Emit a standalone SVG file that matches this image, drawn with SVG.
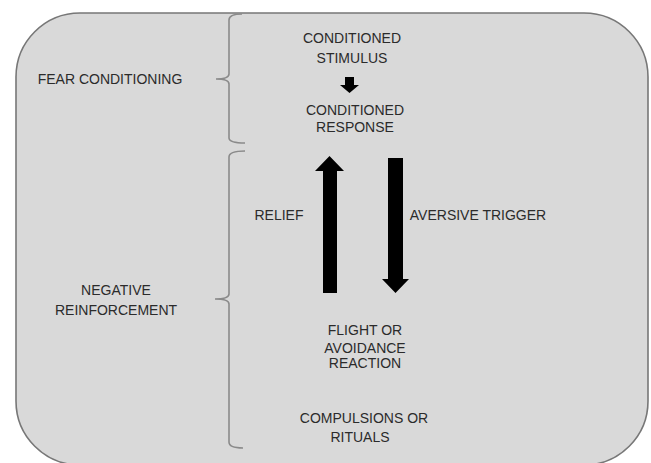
<svg xmlns="http://www.w3.org/2000/svg" width="651" height="463" viewBox="0 0 651 463">
<style>
text{font-family:"Liberation Sans",Arial,sans-serif;font-size:14px;fill:#2b2b2b;text-anchor:middle}
.brace{fill:none;stroke:#8a8a8a;stroke-width:1.6}
.arrow{fill:#000}
</style>
<rect width="651" height="463" fill="#fff"/>
<g id="frame">
<rect x="16" y="13" width="632" height="452" rx="64" ry="64" fill="#d9d9d9" stroke="#777" stroke-width="1.6"/>
</g>
<g id="braces">
<path class="brace" d="M242,14 Q229,14 229,20 L229,74 Q229,79 216,79 Q229,79 229,84 L229,138 Q229,143 245,143"/>
<path class="brace" d="M245,151 Q229,151 229,157 L229,294 Q229,299 215,299 Q229,299 229,304 L229,442 Q229,448 243,448"/>
</g>
<g id="fear-conditioning"><text x="110" y="84">FEAR CONDITIONING</text></g>
<g id="negative-reinforcement"><text x="116" y="295">NEGATIVE</text><text x="116" y="315">REINFORCEMENT</text></g>
<g id="conditioned-stimulus"><text x="352" y="43">CONDITIONED</text><text x="352" y="63">STIMULUS</text></g>
<g id="conditioned-response"><text x="355" y="115">CONDITIONED</text><text x="355" y="132">RESPONSE</text></g>
<g id="flight"><text x="365" y="335">FLIGHT OR</text><text x="365" y="353">AVOIDANCE</text><text x="365" y="368">REACTION</text></g>
<g id="compulsions"><text x="364" y="423">COMPULSIONS OR</text><text x="360" y="442">RITUALS</text></g>
<g id="connectors">
<polygon class="arrow" points="345,77 354,77 354,85 359,85 349.5,93 340,85 345,85"/>
<polygon class="arrow" points="323,293 337,293 337,171 344,171 329.5,156 315,171 323,171"/>
<polygon class="arrow" points="388,158 403,158 403,279 409,279 395.5,293 382,279 388,279"/>
<text x="279" y="220">RELIEF</text>
<text x="478" y="220">AVERSIVE TRIGGER</text>
</g>
</svg>
